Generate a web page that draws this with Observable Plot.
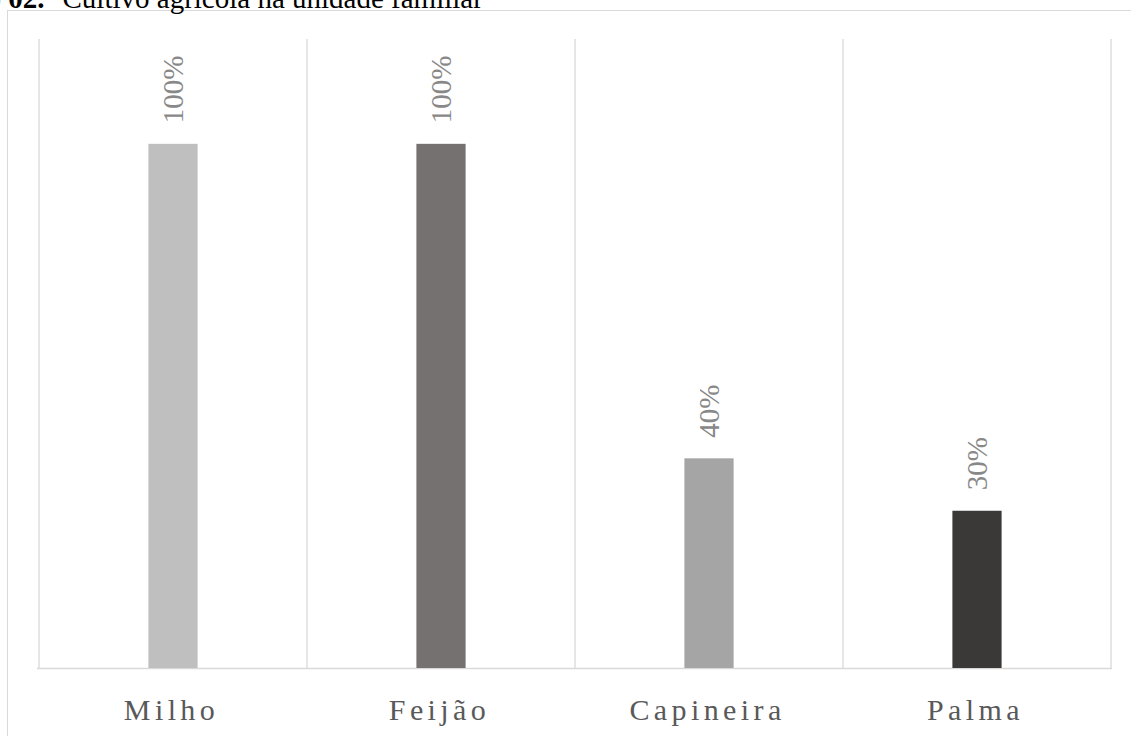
<!DOCTYPE html>
<html><head><meta charset="utf-8">
<script src="https://cdn.jsdelivr.net/npm/d3@7"></script>
<script src="https://cdn.jsdelivr.net/npm/@observablehq/plot@0.6"></script>
<style>
body{margin:0;background:#fff;overflow:hidden;width:1131px;height:736px;position:relative;font-family:"Liberation Serif","Times New Roman",serif}
#frame{position:absolute;left:7px;top:10px;width:1200px;height:800px;border:1.3px solid #d9d9d9;box-sizing:border-box}
#title{position:absolute;left:-94px;top:-16px;font-size:29px;line-height:1;white-space:nowrap;color:#000;font-family:"Liberation Serif",serif}
#chart{position:absolute;left:0;top:0}
#chart svg text{font-family:"Liberation Serif","Times New Roman",serif}
#chart svg g[aria-label="x-axis tick label"] text{letter-spacing:4.4px}
</style></head><body>
<div id="frame"></div>
<div id="title"><b>Gráfico 02.</b><span style="margin-left:18px">Cultivo agrícola na unidade familiar</span></div>
<div id="chart"></div>
<script>
const categories = ["Milho", "Feijão", "Capineira", "Palma"];
const values = [1.00, 1.00, 0.40, 0.30];
const barColors = ["#bfbfbf", "#767171", "#a5a5a5", "#3b3838"];
const data = categories.map((c, i) => ({category: c, value: values[i], color: barColors[i]}));

function gridlines(index, scales, vals, dimensions) {
  let x = scales.x;
  if (!x || !x.bandwidth) x = scales.scales && scales.scales.x;
  const bw = x.bandwidth();
  const edges = categories.map(c => x(c)).concat([x(categories[categories.length - 1]) + bw]);
  const g = d3.create("svg:g");
  g.selectAll("line").data(edges).join("line")
    .attr("x1", d => d).attr("x2", d => d)
    .attr("y1", dimensions.marginTop)
    .attr("y2", dimensions.height - dimensions.marginBottom)
    .attr("stroke", "#d9d9d9").attr("stroke-width", 1.3);
  return g.node();
}

const chart = Plot.plot({
  width: 1131,
  height: 736,
  marginLeft: 37,
  marginRight: 19,
  marginTop: 39,
  marginBottom: 68,
  style: {fontFamily: "Liberation Serif", background: "transparent"},
  x: {domain: categories, padding: 0, label: null},
  y: {domain: [0, 1.2], axis: null},
  color: {type: "identity"},
  marks: [
    gridlines,
    Plot.ruleY([0], {stroke: "#d9d9d9", strokeWidth: 1.3}),
    Plot.barY(data, {x: "category", y: "value", fill: "color", insetLeft: 109.4, insetRight: 109.4}),
    Plot.text(data, {x: "category", y: "value", text: d => Math.round(d.value * 100) + "%",
      rotate: -90, textAnchor: "start", lineAnchor: "middle", dy: -21, fontSize: 29,
      fontFamily: "Liberation Serif", fill: "#888888"}),
    Plot.axisX({tickSize: 0, tickPadding: 30, fontSize: 30, fill: "#595959", label: null, dx: -2})
  ]
});
document.getElementById("chart").appendChild(chart);
</script>
</body></html>
